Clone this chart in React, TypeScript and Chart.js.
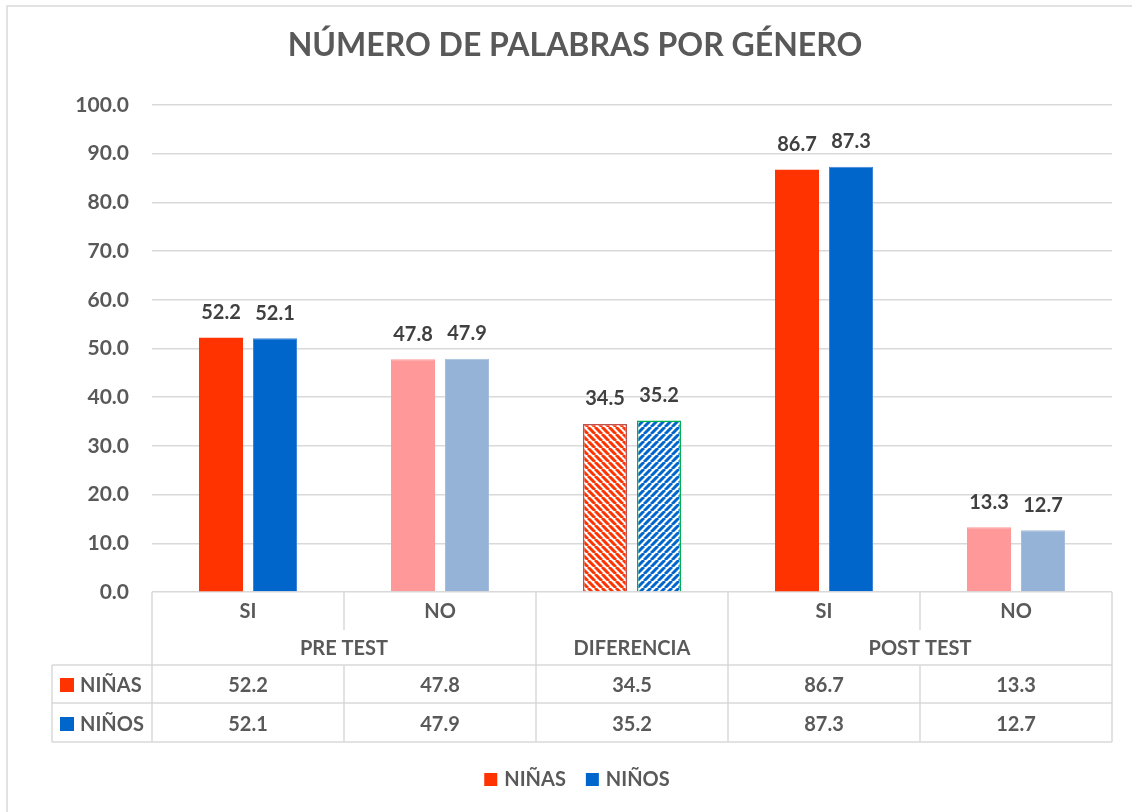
import React, { useEffect, useRef } from 'react';
import { Chart, registerables } from 'chart.js';

Chart.register(...registerables);

// ---- data ----
const TITLE = 'NÚMERO DE PALABRAS POR GÉNERO';
const CATEGORIES = ['SI', 'NO', '', 'SI', 'NO'];
const GROUP_LABELS = ['PRE TEST', 'DIFERENCIA', 'POST TEST'];
const GROUP_SPANS = [2, 1, 2];
const SERIES_NAMES = ['NIÑAS', 'NIÑOS'];
const NINAS = [52.2, 47.8, 34.5, 86.7, 13.3];
const NINOS = [52.1, 47.9, 35.2, 87.3, 12.7];
const Y_MIN = 0;
const Y_MAX = 100;
const Y_STEP = 10;

// ---- styles ----
const FONT = 'Lato, "Open Sans", sans-serif';
const TEXT = '#595959';
const LABEL = '#404040';
const LINE = '#D9D9D9';
const RED = '#FF3300';
const BLUE = '#0066CC';
const PINK = '#FF9999';
const LIGHTBLUE = '#95B3D7';
const SERIES_KEYS = [RED, BLUE];

const fmt = (v: number) => v.toFixed(1);

function stripes(ctx: CanvasRenderingContext2D, color: string, down: boolean) {
  const s = 7;
  const c = document.createElement('canvas');
  c.width = s;
  c.height = s;
  const g = c.getContext('2d')!;
  g.fillStyle = '#FFFFFF';
  g.fillRect(0, 0, s, s);
  g.strokeStyle = color;
  g.lineWidth = 3;
  g.beginPath();
  for (let k = -1; k <= 1; k++) {
    if (down) {
      g.moveTo(k * s, 0);
      g.lineTo(k * s + s, s);
    } else {
      g.moveTo(k * s, s);
      g.lineTo(k * s + s, 0);
    }
  }
  g.stroke();
  return ctx.createPattern(c, 'repeat')!;
}

const valueLabels = {
  id: 'valueLabels',
  afterDatasetsDraw(chart: any) {
    const ctx = chart.ctx;
    ctx.save();
    ctx.font = `bold 20px ${FONT}`;
    ctx.fillStyle = LABEL;
    ctx.textAlign = 'center';
    ctx.textBaseline = 'alphabetic';
    chart.data.datasets.forEach((ds: any, di: number) => {
      const meta = chart.getDatasetMeta(di);
      meta.data.forEach((el: any, i: number) => {
        ctx.fillText(fmt(ds.data[i]), el.x, el.y - 18.5);
      });
    });
    ctx.restore();
  },
};

const decorations = {
  id: 'decorations',
  afterDraw(chart: any) {
    const ctx: CanvasRenderingContext2D = chart.ctx;
    const x = chart.scales.x;
    const y = chart.scales.y;
    const n = CATEGORIES.length;
    const cw = (chart.chartArea.right - chart.chartArea.left) / n;
    const bounds: number[] = [];
    for (let i = 0; i < n; i++) bounds.push(x.getPixelForValue(i) - cw / 2);
    bounds.push(x.getPixelForValue(n - 1) + cw / 2);
    const top = y.getPixelForValue(0);
    const r1 = top + 38;
    const r2 = top + 73;
    const r3 = top + 111;
    const r4 = top + 150;
    const tableLeft = 52;

    ctx.save();
    // outer chart border
    ctx.strokeStyle = LINE;
    ctx.lineWidth = 1.5;
    ctx.beginPath();
    ctx.moveTo(7, chart.height + 5);
    ctx.lineTo(7, 6);
    ctx.lineTo(chart.width + 5, 6);
    ctx.stroke();

    // group boundaries
    const groupEdges = new Set<number>([0]);
    let acc = 0;
    GROUP_SPANS.forEach((s) => {
      acc += s;
      groupEdges.add(acc);
    });

    ctx.beginPath();
    bounds.forEach((bx, i) => {
      if (groupEdges.has(i)) {
        ctx.moveTo(bx, top);
        ctx.lineTo(bx, r4);
      } else {
        ctx.moveTo(bx, top);
        ctx.lineTo(bx, r1);
        ctx.moveTo(bx, r2);
        ctx.lineTo(bx, r4);
      }
    });
    [r2, r3, r4].forEach((ry) => {
      ctx.moveTo(tableLeft, ry);
      ctx.lineTo(bounds[n], ry);
    });
    ctx.moveTo(tableLeft, r2);
    ctx.lineTo(tableLeft, r4);
    ctx.stroke();

    ctx.font = `bold 20px ${FONT}`;
    ctx.fillStyle = TEXT;
    ctx.textAlign = 'center';
    ctx.textBaseline = 'alphabetic';
    // category labels
    CATEGORIES.forEach((c, i) => {
      ctx.fillText(c, x.getPixelForValue(i), top + 26);
    });
    // group labels
    let start = 0;
    GROUP_LABELS.forEach((g, gi) => {
      const end = start + GROUP_SPANS[gi];
      const cx = (bounds[start] + bounds[end]) / 2;
      ctx.fillText(g, cx, top + 63);
      start = end;
    });
    // data rows
    const series = [NINAS, NINOS];
    const rowBase = [top + 100, top + 139];
    series.forEach((vals, si) => {
      vals.forEach((v, i) => {
        ctx.fillText(fmt(v), x.getPixelForValue(i), rowBase[si]);
      });
      ctx.fillStyle = SERIES_KEYS[si];
      ctx.fillRect(60, rowBase[si] - 14, 14, 14);
      ctx.fillStyle = TEXT;
      ctx.textAlign = 'left';
      ctx.fillText(SERIES_NAMES[si], 80, rowBase[si]);
      ctx.textAlign = 'center';
    });

    // title
    ctx.font = `bold 32px ${FONT}`;
    ctx.fillStyle = TEXT;
    ctx.textAlign = 'center';
    ctx.fillText(TITLE, 575, 56);

    // legend
    ctx.font = `bold 20px ${FONT}`;
    const box = 13;
    const gapKey = 7;
    const gapItem = 20;
    const widths = SERIES_NAMES.map((s) => ctx.measureText(s).width);
    const total = widths.reduce((a, w) => a + box + gapKey + w, 0) + gapItem * (SERIES_NAMES.length - 1);
    let lx = 577 - total / 2;
    const lb = 786;
    ctx.textAlign = 'left';
    SERIES_NAMES.forEach((s, si) => {
      ctx.fillStyle = SERIES_KEYS[si];
      ctx.fillRect(lx, lb - 13, box, box);
      ctx.fillStyle = TEXT;
      ctx.fillText(s, lx + box + gapKey, lb);
      lx += box + gapKey + widths[si] + gapItem;
    });
    ctx.restore();
  },
};

export default function App() {
  const ref = useRef<HTMLCanvasElement>(null);

  useEffect(() => {
    const canvas = ref.current!;
    const ctx = canvas.getContext('2d')!;
    const redStripes = stripes(ctx, RED, true);
    const blueStripes = stripes(ctx, BLUE, false);

    const chart = new Chart(canvas, {
      type: 'bar',
      data: {
        labels: CATEGORIES,
        datasets: [
          {
            label: SERIES_NAMES[0],
            data: NINAS,
            backgroundColor: [RED, PINK, redStripes, RED, PINK] as any,
            borderColor: ['rgba(0,0,0,0)', PINK, '#C0504D', 'rgba(0,0,0,0)', PINK],
            borderWidth: [0, 1, 1.5, 0, 1] as any,
            categoryPercentage: 0.5625,
            barPercentage: 0.815,
          },
          {
            label: SERIES_NAMES[1],
            data: NINOS,
            backgroundColor: [BLUE, LIGHTBLUE, blueStripes, BLUE, LIGHTBLUE] as any,
            borderColor: ['#3F86D6', '#A6BEDC', '#00B050', '#3F86D6', '#A6BEDC'],
            borderWidth: [1, 1, 1.5, 1, 1] as any,
            categoryPercentage: 0.5625,
            barPercentage: 0.815,
          },
        ],
      },
      options: {
        responsive: false,
        animation: false,
        devicePixelRatio: 1,
        layout: { padding: { left: 18, top: 105, right: 20, bottom: 220 } },
        plugins: {
          legend: { display: false },
          title: { display: false },
          tooltip: { enabled: false },
        },
        scales: {
          x: { display: false },
          y: {
            min: Y_MIN,
            max: Y_MAX,
            afterFit: (s: any) => {
              s.width = 134;
            },
            ticks: {
              stepSize: Y_STEP,
              padding: 23,
              color: TEXT,
              font: { family: FONT, size: 21, weight: 'bold' },
              callback: (v: any) => Number(v).toFixed(1),
            },
            grid: { color: LINE, lineWidth: 1.5, drawTicks: false },
            border: { display: false },
          },
        },
      },
      plugins: [valueLabels, decorations],
    });
    return () => chart.destroy();
  }, []);

  return (
    <div style={{ position: 'fixed', left: 0, top: 0, width: 1132, height: 812, background: '#fff' }}>
      <canvas ref={ref} width={1132} height={812} style={{ display: 'block' }} />
    </div>
  );
}
